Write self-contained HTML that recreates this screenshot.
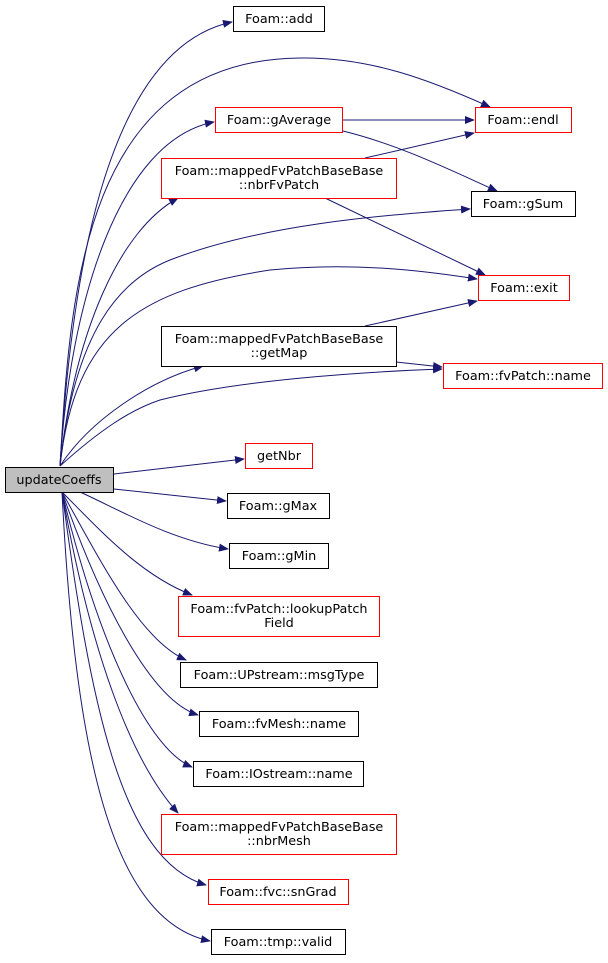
<!DOCTYPE html>
<html><head><meta charset="utf-8"><style>
html,body{margin:0;padding:0;background:#fff}
svg{display:block}
text{font-family:"DejaVu Sans","Liberation Sans",sans-serif;font-size:12.8px;fill:#000}
</style></head><body>
<svg width="608" height="963" viewBox="0 0 608 963" xmlns="http://www.w3.org/2000/svg">
<defs><marker id="a" markerWidth="10" markerHeight="8" refX="9" refY="4" orient="auto" markerUnits="userSpaceOnUse"><path d="M0,0 L10,4 L0,8 Z" fill="#191970"/></marker></defs>
<g fill="none" stroke="#191970" stroke-width="1" marker-end="url(#a)">
<path d="M60,466 C70,300 100,50 232,22"/>
<path d="M60,466 C70,300 80,60 300,58 C370,57 430,80 490,107"/>
<path d="M60,466 C70,300 120,140 214,122"/>
<path d="M60,466 C75,330 120,230 178,198"/>
<path d="M60,466 C75,330 120,280 170,260 C260,225 380,215 470,209"/>
<path d="M60,466 C75,330 140,290 270,270 C350,262 420,270 477,279"/>
<path d="M60,466 C90,420 150,380 203,366"/>
<path d="M60,466 C100,430 130,410 160,400 C240,380 360,372 442,369"/>
<path d="M114,474 L244,459"/>
<path d="M114,489 L226,501"/>
<path d="M80,492 C120,510 170,540 228,549"/>
<path d="M62,492 C100,530 140,575 192,595"/>
<path d="M62,492 C100,560 140,640 186,660"/>
<path d="M62,492 C100,600 150,700 198,715"/>
<path d="M62,492 C100,650 150,750 192,767"/>
<path d="M62,492 C90,650 130,760 178,813"/>
<path d="M62,492 C90,700 120,860 206,885"/>
<path d="M62,492 C75,750 110,920 210,941"/>
<path d="M343,120 L474,120"/>
<path d="M343,131 C400,145 450,170 497,191"/>
<path d="M365,158 L474,133"/>
<path d="M325,198 L485,275"/>
<path d="M365,326 L477,301"/>
<path d="M396,362 L442,367"/>
</g>
<g stroke-width="1">
<rect x="5.5" y="467.5" width="108" height="25" fill="#bfbfbf" stroke="#000"/>
<rect x="233.5" y="6.5" width="91" height="25" fill="#fff" stroke="#000"/>
<rect x="215.5" y="107.5" width="127" height="25" fill="#fff" stroke="#f00"/>
<rect x="475.5" y="107.5" width="96" height="25" fill="#fff" stroke="#f00"/>
<rect x="161.5" y="158.5" width="235" height="40" fill="#fff" stroke="#f00"/>
<rect x="471.5" y="191.5" width="104" height="25" fill="#fff" stroke="#000"/>
<rect x="478.5" y="275.5" width="91" height="25" fill="#fff" stroke="#f00"/>
<rect x="161.5" y="326.5" width="235" height="40" fill="#fff" stroke="#000"/>
<rect x="443.5" y="363.5" width="159" height="25" fill="#fff" stroke="#f00"/>
<rect x="245.5" y="443.5" width="67" height="25" fill="#fff" stroke="#f00"/>
<rect x="227.5" y="493.5" width="102" height="25" fill="#fff" stroke="#000"/>
<rect x="229.5" y="543.5" width="99" height="25" fill="#fff" stroke="#000"/>
<rect x="178.5" y="596.5" width="201" height="40" fill="#fff" stroke="#f00"/>
<rect x="180.5" y="662.5" width="197" height="25" fill="#fff" stroke="#000"/>
<rect x="199.5" y="711.5" width="159" height="25" fill="#fff" stroke="#000"/>
<rect x="193.5" y="761.5" width="170" height="25" fill="#fff" stroke="#000"/>
<rect x="161.5" y="814.5" width="235" height="40" fill="#fff" stroke="#f00"/>
<rect x="208.5" y="879.5" width="140" height="25" fill="#fff" stroke="#f00"/>
<rect x="211.5" y="929.5" width="134" height="25" fill="#fff" stroke="#000"/>
</g>
<g text-anchor="middle">
<text x="59" y="484">updateCoeffs</text>
<text x="279" y="23">Foam::add</text>
<text x="279" y="124">Foam::gAverage</text>
<text x="523" y="124">Foam::endl</text>
<text x="279" y="175">Foam::mappedFvPatchBaseBase</text>
<text x="279" y="189">::nbrFvPatch</text>
<text x="523" y="208">Foam::gSum</text>
<text x="524" y="292">Foam::exit</text>
<text x="279" y="343">Foam::mappedFvPatchBaseBase</text>
<text x="279" y="357">::getMap</text>
<text x="523" y="380">Foam::fvPatch::name</text>
<text x="279" y="460">getNbr</text>
<text x="278" y="510">Foam::gMax</text>
<text x="279" y="560">Foam::gMin</text>
<text x="279" y="613">Foam::fvPatch::lookupPatch</text>
<text x="279" y="627">Field</text>
<text x="279" y="679">Foam::UPstream::msgType</text>
<text x="279" y="728">Foam::fvMesh::name</text>
<text x="279" y="778">Foam::IOstream::name</text>
<text x="279" y="831">Foam::mappedFvPatchBaseBase</text>
<text x="279" y="845">::nbrMesh</text>
<text x="278" y="896">Foam::fvc::snGrad</text>
<text x="278" y="946">Foam::tmp::valid</text>
</g>
</svg>
</body></html>
